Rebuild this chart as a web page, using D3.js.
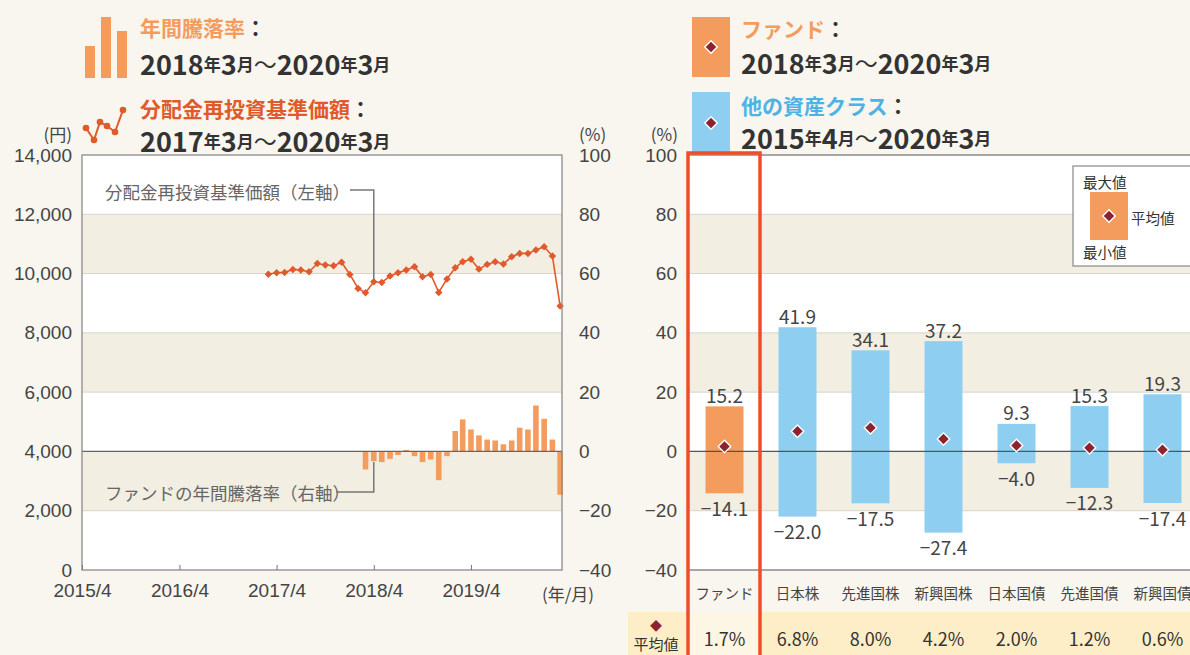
<!DOCTYPE html>
<html lang="ja">
<head>
<meta charset="UTF-8">
<title>騰落率</title>
<style>
	body{margin:0;background:#f8f6ee;}
	svg{display:block;font-family:"Noto Sans CJK JP","Noto Sans",sans-serif;}
</style>
</head>
<body>
<svg id="cont" width="1190" height="655"></svg>
<script src="https://cdn.jsdelivr.net/npm/d3@7"></script>
<script>
	// 分配金再投資基準価額 (円) 2017/3 - 2020/3
	let navValues = [9980,10030,10040,10140,10120,10060,10340,10290,10265,10380,9970,9500,9355,9725,9700,9915,10030,10120,10230,9890,9970,9365,9815,10195,10400,10480,10150,10310,10400,10320,10570,10680,10680,10795,10905,10590,8905]
	// ファンドの年間騰落率 (%) 2018/3 - 2020/3
	let retValues = [-6.1,-3.3,-3.6,-2.5,-1.2,0.5,-1.6,-3.6,-2.7,-9.7,-1.6,6.9,10.8,7.4,5.4,4.0,3.7,2.4,3.7,8.0,7.4,15.5,11.0,4.0,-14.6]
	let navTicks = [0,2000,4000,6000,8000,10000,12000,14000]
	let pctTicks = [-40,-20,0,20,40,60,80,100]
	let shadeBands = [[60,80],[20,40],[-20,0]]
	let yearTicks = ["2015/4","2016/4","2017/4","2018/4","2019/4"]

	let assetNames = ["ファンド","日本株","先進国株","新興国株","日本国債","先進国債","新興国債"]
	let assetMax = [15.2,41.9,34.1,37.2,9.3,15.3,19.3]
	let assetMin = [-14.1,-22.0,-17.5,-27.4,-4.0,-12.3,-17.4]
	let assetAvg = [1.7,6.8,8.0,4.2,2.0,1.2,0.6]

	const ORANGE="#f49c5e", RED="#e05a2b", BLUE="#8ecff1", DIA="#8c2330", INK="#333", AX="#444"
	let svg = d3.select("#cont")
	let parseM = d3.timeParse("%Y/%m")
	let navDates = d3.timeMonth.range(new Date(2017,2,1), new Date(2020,3,1))
	let retDates = d3.timeMonth.range(new Date(2018,2,1), new Date(2020,3,1))
	let nav = navValues.map((v,i)=>({date:navDates[i], v:v}))
	let ret = retValues.map((v,i)=>({date:retDates[i], v:v}))

	// ---------- left chart ----------
	let L = {x0:82, x1:562, y0:155, y1:570}
	let x = d3.scaleTime().domain([new Date(2015,3,1), new Date(2020,2,8)]).range([L.x0,L.x1])
	let yNav = d3.scaleLinear().domain([0,14000]).range([L.y1,L.y0])
	let yPct = d3.scaleLinear().domain([-40,100]).range([L.y1,L.y0])

	let left = svg.append("g")
	left.append("rect").attr("x",L.x0).attr("y",L.y0).attr("width",L.x1-L.x0).attr("height",L.y1-L.y0).attr("fill","#fff")
	left.selectAll(".band").data(shadeBands).enter().append("rect")
		.attr("x",L.x0).attr("width",L.x1-L.x0)
		.attr("y",d=>yPct(d[1])).attr("height",d=>yPct(d[0])-yPct(d[1]))
		.attr("fill","#f2eee1")
	left.selectAll(".grid").data(pctTicks.filter(d=>d!=0&&d!=100&&d!=-40)).enter().append("line")
		.attr("x1",L.x0).attr("x2",L.x1).attr("y1",d=>yPct(d)).attr("y2",d=>yPct(d))
		.attr("stroke","#d6d4cc").attr("stroke-width",1)

	// bars
	left.selectAll(".bar").data(ret).enter().append("rect")
		.attr("x",d=>x(d.date)-2.8).attr("width",5.6)
		.attr("y",d=>Math.min(yPct(d.v),yPct(0))).attr("height",d=>Math.abs(yPct(d.v)-yPct(0)))
		.attr("fill",ORANGE)
	left.append("line").attr("x1",L.x0).attr("x2",L.x1).attr("y1",yPct(0)).attr("y2",yPct(0)).attr("stroke","#666").attr("stroke-width",1.3)

	// line
	let line = d3.line().x(d=>x(d.date)).y(d=>yNav(d.v))
	left.append("path").datum(nav).attr("d",line).attr("fill","none").attr("stroke",RED).attr("stroke-width",1.6)
	left.selectAll(".pt").data(nav).enter().append("path")
		.attr("d",d3.symbol(d3.symbolSquare,28)())
		.attr("transform",d=>`translate(${x(d.date)},${yNav(d.v)}) rotate(45)`)
		.attr("fill",RED)

	left.append("rect").attr("x",L.x0).attr("y",L.y0).attr("width",L.x1-L.x0).attr("height",L.y1-L.y0)
		.attr("fill","none").attr("stroke","#8a8a8a").attr("stroke-width",1.3)

	let yl = d3.axisLeft(yNav).tickValues(navTicks).tickSize(0).tickPadding(10).tickFormat(d3.format(","))
	let gl = left.append("g").attr("transform",`translate(${L.x0},0)`).call(yl)
	let yr = d3.axisRight(yPct).tickValues(pctTicks).tickSize(0).tickPadding(17)
	let gr = left.append("g").attr("transform",`translate(${L.x1},0)`).call(yr)
	let xa = d3.axisBottom(x).tickValues(yearTicks.map(d=>parseM(d))).tickSizeInner(-5).tickSizeOuter(0).tickPadding(14)
		.tickFormat(d3.timeFormat("%Y/%-m"))
	let gx = left.append("g").attr("transform",`translate(0,${L.y1})`).call(xa)
	for (let g of [gl,gr,gx]) {
		g.select(".domain").remove()
		g.selectAll("text").attr("font-size",19).attr("fill",AX).attr("font-family",null)
		g.selectAll("line").attr("stroke","#777")
	}
	left.append("text").attr("x",72).attr("y",133).attr("text-anchor","end").attr("dominant-baseline","central").attr("font-size",17).attr("fill",AX).text("(円)")
	left.append("text").attr("x",579).attr("y",133).attr("dominant-baseline","central").attr("font-size",17).attr("fill",AX).text("(%)")
	left.append("text").attr("x",568).attr("y",593).attr("text-anchor","middle").attr("dominant-baseline","central").attr("font-size",17).attr("fill",AX).text("(年/月)")

	// annotations
	let ann = left.append("g").attr("fill","#666").attr("font-size",17.5)
	ann.append("text").attr("x",105).attr("y",191).attr("dominant-baseline","central").text("分配金再投資基準価額（左軸）")
	ann.append("polyline").attr("points",`350,190 ${x(parseM("2018/04"))},190 ${x(parseM("2018/04"))},279`).attr("fill","none").attr("stroke","#777").attr("stroke-width",1.5)
	ann.append("text").attr("x",105).attr("y",492).attr("dominant-baseline","central").text("ファンドの年間騰落率（右軸）")
	ann.append("polyline").attr("points",`336,492 ${x(parseM("2018/04"))},492 ${x(parseM("2018/04"))},462`).attr("fill","none").attr("stroke","#777").attr("stroke-width",1.5)

	// ---------- top legends ----------
	function dateText(g, xx, yy, parts){
		let t = g.append("text").attr("x",xx).attr("y",yy).attr("fill",INK).attr("font-weight","bold").attr("dominant-baseline","central")
		parts.forEach(p=>{
			let s = t.append("tspan").text(p[0])
			if (p[0]=="～") s.attr("font-size",23).attr("font-weight","normal")
			else s.attr("font-size",p[1]?27:17)
		})
	}
	let lg = svg.append("g")
	lg.selectAll(".lb").data([[85,46],[101,17],[117,31]]).enter().append("rect")
		.attr("x",d=>d[0]).attr("y",d=>d[1]).attr("width",10).attr("height",d=>78-d[1]).attr("fill",ORANGE)
	let iconPts = [[86,128],[94,140],[100,122],[107,126],[115,132],[123,110]]
	lg.append("polyline").attr("points",iconPts.join(" ")).attr("fill","none").attr("stroke",RED).attr("stroke-width",2)
	lg.selectAll(".ip").data(iconPts).enter().append("circle").attr("cx",d=>d[0]).attr("cy",d=>d[1]).attr("r",3.3).attr("fill",RED)
	let t1 = lg.append("text").attr("x",140).attr("y",27).attr("font-size",21).attr("font-weight","bold").attr("dominant-baseline","central")
	t1.append("tspan").attr("fill",ORANGE).text("年間騰落率")
	t1.append("tspan").attr("fill",INK).text("：")
	dateText(lg,140,63,[["2018",1],["年"],["3",1],["月"],["～",1],["2020",1],["年"],["3",1],["月"]])
	let t2 = lg.append("text").attr("x",140).attr("y",108).attr("font-size",21).attr("font-weight","bold").attr("dominant-baseline","central")
	t2.append("tspan").attr("fill",RED).text("分配金再投資基準価額")
	t2.append("tspan").attr("fill",INK).text("：")
	dateText(lg,140,140,[["2017",1],["年"],["3",1],["月"],["～",1],["2020",1],["年"],["3",1],["月"]])

	let diamond = d3.symbol(d3.symbolSquare,78)()
	lg.append("rect").attr("x",692).attr("y",17).attr("width",38).attr("height",60).attr("fill",ORANGE)
	lg.append("path").attr("d",diamond).attr("transform","translate(711,47) rotate(45)").attr("fill",DIA).attr("stroke","#fff").attr("stroke-width",1.4)
	lg.append("rect").attr("x",692).attr("y",92).attr("width",38).attr("height",62).attr("fill",BLUE)
	lg.append("path").attr("d",diamond).attr("transform","translate(711,123) rotate(45)").attr("fill",DIA).attr("stroke","#fff").attr("stroke-width",1.4)
	let t3 = lg.append("text").attr("x",741).attr("y",28).attr("font-size",21).attr("font-weight","bold").attr("dominant-baseline","central")
	t3.append("tspan").attr("fill",ORANGE).text("ファンド")
	t3.append("tspan").attr("fill",INK).text("：")
	dateText(lg,741,62,[["2018",1],["年"],["3",1],["月"],["～",1],["2020",1],["年"],["3",1],["月"]])
	let t4 = lg.append("text").attr("x",741).attr("y",105).attr("font-size",21).attr("font-weight","bold").attr("dominant-baseline","central")
	t4.append("tspan").attr("fill","#4db3e6").text("他の資産クラス")
	t4.append("tspan").attr("fill",INK).text("：")
	dateText(lg,741,137,[["2015",1],["年"],["4",1],["月"],["～",1],["2020",1],["年"],["3",1],["月"]])

	// ---------- right chart ----------
	let R = {x0:688, x1:1199, y0:155, y1:570}
	let xb = d3.scaleBand().domain(assetNames).range([R.x0,R.x1]).paddingInner(0.48).paddingOuter(0.24)
	let yR = d3.scaleLinear().domain([-40,100]).range([R.y1,R.y0])
	let assets = assetNames.map((n,i)=>({name:n, max:assetMax[i], min:assetMin[i], avg:assetAvg[i]}))

	let right = svg.append("g")
	right.append("rect").attr("x",R.x0).attr("y",R.y0).attr("width",R.x1-R.x0).attr("height",R.y1-R.y0).attr("fill","#fff")
	right.selectAll(".band").data(shadeBands).enter().append("rect")
		.attr("x",R.x0).attr("width",R.x1-R.x0)
		.attr("y",d=>yR(d[1])).attr("height",d=>yR(d[0])-yR(d[1]))
		.attr("fill","#f2eee1")
	right.selectAll(".grid").data(pctTicks.filter(d=>d!=0&&d!=100&&d!=-40)).enter().append("line")
		.attr("x1",R.x0).attr("x2",R.x1).attr("y1",d=>yR(d)).attr("y2",d=>yR(d))
		.attr("stroke","#d6d4cc")
	right.append("line").attr("x1",R.x0).attr("x2",R.x1).attr("y1",yR(100)).attr("y2",yR(100)).attr("stroke","#8a8a8a").attr("stroke-width",1.3)
	right.append("line").attr("x1",R.x0).attr("x2",R.x1).attr("y1",yR(-40)).attr("y2",yR(-40)).attr("stroke","#8a8a8a").attr("stroke-width",1.3)

	right.selectAll(".abar").data(assets).enter().append("rect")
		.attr("x",d=>xb(d.name)).attr("width",xb.bandwidth())
		.attr("y",d=>yR(d.max)).attr("height",d=>yR(d.min)-yR(d.max))
		.attr("fill",(d,i)=>i==0?ORANGE:BLUE)
	right.append("line").attr("x1",R.x0).attr("x2",R.x1).attr("y1",yR(0)).attr("y2",yR(0)).attr("stroke","#555").attr("stroke-width",1.3)
	right.selectAll(".dia").data(assets).enter().append("path")
		.attr("d",diamond)
		.attr("transform",d=>`translate(${xb(d.name)+xb.bandwidth()/2},${yR(d.avg)}) rotate(45)`)
		.attr("fill",DIA).attr("stroke","#fff").attr("stroke-width",1.4)
	let f1 = d3.format(".1f")
	right.selectAll(".mx").data(assets).enter().append("text")
		.attr("x",d=>xb(d.name)+xb.bandwidth()/2).attr("y",d=>yR(d.max)-12)
		.attr("text-anchor","middle").attr("dominant-baseline","central").attr("font-size",19).attr("fill",AX)
		.text(d=>f1(d.max))
	right.selectAll(".mn").data(assets).enter().append("text")
		.attr("x",d=>xb(d.name)+xb.bandwidth()/2).attr("y",d=>yR(d.min)+14)
		.attr("text-anchor","middle").attr("dominant-baseline","central").attr("font-size",19).attr("fill",AX)
		.text(d=>f1(d.min))

	let gyr = right.append("g").attr("transform",`translate(${R.x0},0)`)
		.call(d3.axisLeft(yR).tickValues(pctTicks).tickSize(0).tickPadding(11))
	gyr.select(".domain").remove()
	gyr.selectAll("text").attr("font-size",19).attr("fill",AX).attr("font-family",null)
	right.append("text").attr("x",678).attr("y",133).attr("text-anchor","end").attr("dominant-baseline","central").attr("font-size",17).attr("fill",AX).text("(%)")

	// category labels and table row
	right.selectAll(".cat").data(assets).enter().append("text")
		.attr("x",d=>xb(d.name)+xb.bandwidth()/2).attr("y",592)
		.attr("text-anchor","middle").attr("dominant-baseline","central").attr("font-size",14.5).attr("fill",AX)
		.text(d=>d.name)
	right.append("rect").attr("x",628).attr("y",612).attr("width",570).attr("height",50).attr("fill","#fdeec8")
	right.append("rect").attr("x",R.x0).attr("y",612).attr("width",xb.step()-1).attr("height",50).attr("fill","#fef6e4")
	right.append("text").attr("x",656).attr("y",625).attr("text-anchor","middle").attr("dominant-baseline","central").attr("font-size",12).attr("fill",DIA).text("◆")
	right.append("text").attr("x",656).attr("y",643).attr("text-anchor","middle").attr("dominant-baseline","central").attr("font-size",15).attr("fill",INK).text("平均値")
	right.selectAll(".avg").data(assets).enter().append("text")
		.attr("x",d=>xb(d.name)+xb.bandwidth()/2).attr("y",638)
		.attr("text-anchor","middle").attr("dominant-baseline","central").attr("font-size",18).attr("fill",INK)
		.text(d=>f1(d.avg)+"%")

	// fund highlight
	right.append("rect").attr("x",R.x0).attr("y",153).attr("width",xb.step()-1).attr("height",520)
		.attr("fill","none").attr("stroke","#ef4c29").attr("stroke-width",3.5)

	// small legend
	let sl = right.append("g")
	sl.append("rect").attr("x",1073).attr("y",166).attr("width",130).attr("height",100).attr("fill","#fff").attr("stroke","#888").attr("stroke-width",1.2)
	sl.append("rect").attr("x",1090).attr("y",192).attr("width",38).attr("height",48).attr("fill",ORANGE)
	sl.append("path").attr("d",diamond).attr("transform","translate(1109,216) rotate(45)").attr("fill",DIA).attr("stroke","#fff").attr("stroke-width",1.4)
	sl.selectAll(".sl").data([["最大値",1083,181],["平均値",1131,217],["最小値",1083,251]]).enter().append("text")
		.attr("x",d=>d[1]).attr("y",d=>d[2]).attr("dominant-baseline","central").attr("font-size",14.5).attr("fill",INK)
		.text(d=>d[0])
</script>
</body>
</html>
